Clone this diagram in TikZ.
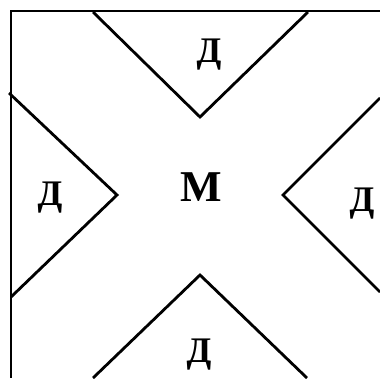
\documentclass[tikz,border=0pt]{standalone}
\usepackage{fontspec}
\setmainfont{Liberation Serif}
\usepackage{tikz}
\usetikzlibrary{positioning}

\begin{document}
\begin{tikzpicture}[x=1pt,y=-1pt,
  frame/.style={line width=2.4pt,color=black},
  wedge/.style={line width=2.8pt,color=black,line join=miter},
  zone/.style={font=\fontsize{36}{36}\selectfont\bfseries,anchor=base,inner sep=0pt},
  core/.style={font=\fontsize{44}{44}\selectfont\bfseries,anchor=base,inner sep=0pt}]
  \useasboundingbox (0,0) rectangle (380,378);
  % frame
  \draw[frame] (10,11) -- (380,11);
  \draw[frame] (11,11) -- (11,378);
  % wedges
  \draw[wedge] (93,12) -- (200,117) -- (308,12);
  \draw[wedge] (9,93) -- (117,195) -- (11,297);
  \draw[wedge] (380,98) -- (283,195) -- (380,292);
  \draw[wedge] (93,378) -- (200,275) -- (307,378);
  % labels
  \node[zone] (dtop) at (209,62) {Д};
  \node[zone] (dleft) at (50,205) {Д};
  \node[core] (m) at (201,201) {М};
  \node[zone] (dright) at (362,211) {Д};
  \node[zone] (dbot) at (199,362) {Д};
\end{tikzpicture}
\end{document}
